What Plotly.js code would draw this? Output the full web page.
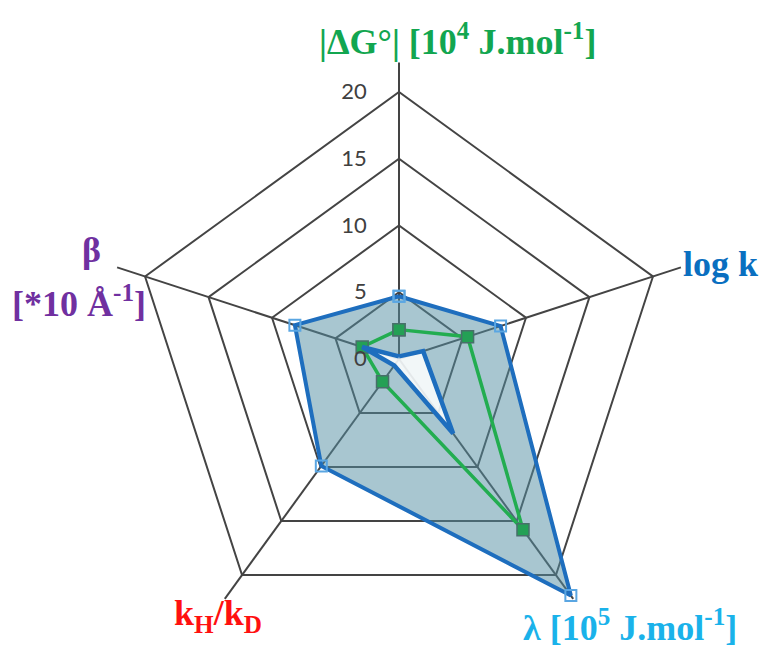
<!DOCTYPE html>
<html>
<head>
<meta charset="utf-8">
<script src="https://cdn.plot.ly/plotly-3.0.1.min.js"></script>
<style>
  html, body { margin: 0; padding: 0; overflow: hidden; background: #fff; }
  #chart { width: 763px; height: 660px; }
</style>
</head>
<body>
<div id="chart"></div>
<script>
// Radar axes, clockwise from the top
const categories = ['|ΔG°|', 'log k', 'λ', 'kH/kD', 'β'];

// Axis captions (rich text) in the same order
const axisCaptions = [
  '|ΔG°| [10<sup>4</sup> J.mol<sup>-1</sup>]',
  'log k',
  'λ [10<sup>5</sup> J.mol<sup>-1</sup>]',
  'k<sub>H</sub>/k<sub>D</sub>',
  'β'
];
const betaUnit = '[*10 Å<sup>-1</sup>]';

// Radial scale
const radialTicks = [0, 5, 10, 15, 20];

// Series values, same order as categories
const seriesOuter = [4.7, 8.0, 21.9, 9.9, 8.2];
const seriesGreen = [2.2, 5.4, 15.8, 2.1, 2.9];
const seriesInner = [0.2, 1.9, 6.9, 0.6, 2.9];

const close = a => a.concat([a[0]]);
const theta = close(categories);

const traces = [
  {
    type: 'scatterpolar',
    r: close(seriesOuter),
    theta: theta,
    mode: 'lines',
    fill: 'toself',
    fillcolor: 'rgba(81,141,161,0.5)',
    line: { color: '#1e6ebe', width: 4 },
    hoverinfo: 'skip'
  },
  {
    type: 'scatterpolar',
    r: close(seriesOuter),
    theta: theta,
    mode: 'markers',
    marker: { symbol: 'square-open', size: 11, color: '#5aa6e2', line: { width: 2 } },
    cliponaxis: false
  },
  {
    type: 'scatterpolar',
    r: close(seriesGreen),
    theta: theta,
    mode: 'lines+markers',
    line: { color: '#22ad50', width: 3.5 },
    marker: { symbol: 'square', size: 12, color: '#24a055', line: { color: '#47706a', width: 1.5 } }
  },
  {
    type: 'scatterpolar',
    r: close(seriesInner),
    theta: theta,
    mode: 'lines',
    fill: 'toself',
    fillcolor: 'rgba(255,255,255,0.85)',
    line: { color: '#1e6ebe', width: 4.5 }
  }
];

const W = 763, H = 660;
const cx = 399, cy = 359, R = 296.4;
const px = x => x / W;
const py = y => 1 - y / H;

const captionFont = (color) => ({ family: 'Liberation Serif, Times New Roman, serif', size: 36, color: color, weight: 'bold' });

const annotations = [
  { text: axisCaptions[0], x: px(457), y: py(40), font: captionFont('#12a650') },
  { text: axisCaptions[1], x: px(720), y: py(264), font: captionFont('#0a6fc0') },
  { text: axisCaptions[2], x: px(630), y: py(625), font: captionFont('#1ab2ea') },
  { text: axisCaptions[3], x: px(218), y: py(615), font: captionFont('#ff1010') },
  { text: axisCaptions[4], x: px(91), y: py(250), font: captionFont('#7030a0') },
  { text: betaUnit, x: px(79), y: py(301), font: captionFont('#7030a0') }
].map(a => Object.assign({ xref: 'paper', yref: 'paper', showarrow: false, xanchor: 'center', yanchor: 'middle' }, a));

const layout = {
  width: W,
  height: H,
  margin: { l: 0, r: 0, t: 0, b: 0 },
  paper_bgcolor: '#ffffff',
  showlegend: false,
  polar: {
    domain: { x: [px(cx - R), px(cx + R)], y: [py(cy + R), py(cy - R)] },
    gridshape: 'linear',
    bgcolor: '#ffffff',
    radialaxis: {
      range: [0, 22.2],
      tickvals: radialTicks,
      ticktext: radialTicks.map(String),
      angle: 90,
      tickangle: 90,
      side: 'counterclockwise',
      showline: false,
      ticks: 'outside',
      ticklen: 24,
      tickcolor: 'rgba(0,0,0,0)',
      gridcolor: '#444444',
      gridwidth: 2,
      tickfont: { family: 'Lato, Open Sans, sans-serif', size: 22, color: '#404040' }
    },
    angularaxis: {
      direction: 'clockwise',
      rotation: 90,
      showticklabels: false,
      ticks: '',
      showline: false,
      gridcolor: '#444444',
      gridwidth: 2
    }
  },
  annotations: annotations
};

Plotly.newPlot('chart', traces, layout, { displayModeBar: false, staticPlot: true });
</script>
</body>
</html>
